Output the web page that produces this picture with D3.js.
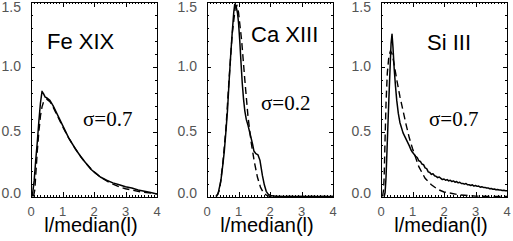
<!DOCTYPE html>
<html><head><meta charset="utf-8">
<script src="https://cdn.jsdelivr.net/npm/d3@7"></script>
<style>body{margin:0;background:#fff}svg{display:block}</style>
</head><body>
<script>
// ---- data ----
const panelNames = ["Fe XIX", "Ca XIII", "Si III"];
const sigmaLabels = ["σ=0.7", "σ=0.2", "σ=0.7"];
const xTicks = [0, 1, 2, 3, 4];
const yTicks = [0.0, 0.5, 1.0, 1.5];
const xTitle = "l/median(l)";

const feSolid = [[0.04,0],[0.1,0.12],[0.15,0.28],[0.2,0.42],[0.25,0.58],[0.3,0.72],[0.35,0.81],[0.4,0.79],[0.45,0.765],[0.5,0.76],[0.55,0.75],[0.6,0.74],[0.7,0.7],[0.8,0.65],[0.9,0.6],[1.0,0.55],[1.1,0.5],[1.2,0.45],[1.3,0.41],[1.4,0.37],[1.5,0.335],[1.6,0.3],[1.7,0.27],[1.8,0.24],[1.9,0.21],[2.0,0.19],[2.1,0.17],[2.2,0.15],[2.4,0.125],[2.6,0.105],[2.8,0.09],[3.0,0.075],[3.2,0.065],[3.4,0.05],[3.6,0.04],[3.8,0.03],[4.0,0.02]];
const feDashed = [[0.08,0],[0.12,0.05],[0.16,0.2],[0.2,0.35],[0.25,0.5],[0.3,0.62],[0.35,0.69],[0.4,0.73],[0.5,0.75],[0.6,0.73],[0.7,0.69],[0.8,0.64],[1.0,0.54],[1.2,0.45],[1.4,0.37],[1.6,0.3],[1.8,0.24],[2.0,0.19],[2.2,0.15],[2.5,0.105],[2.8,0.075],[3.0,0.06],[3.5,0.035],[4.0,0.02]];

const caSolid = [[0.28,0],[0.35,0.02],[0.44,0.12],[0.5,0.24],[0.55,0.35],[0.6,0.5],[0.65,0.66],[0.7,0.88],[0.75,1.08],[0.8,1.26],[0.85,1.42],[0.88,1.48],[0.92,1.47],[0.97,1.41],[1.0,1.34],[1.04,1.2],[1.08,1.03],[1.12,0.87],[1.16,0.75],[1.2,0.66],[1.25,0.59],[1.3,0.55],[1.39,0.46],[1.45,0.4],[1.49,0.35],[1.55,0.33],[1.62,0.32],[1.68,0.28],[1.72,0.22],[1.76,0.16],[1.82,0.09],[1.88,0.04],[1.95,0.015],[2.05,0.005],[2.25,0],[4.0,0]];
const caDashed = [[0.3,0],[0.4,0.05],[0.5,0.25],[0.6,0.52],[0.7,0.9],[0.8,1.25],[0.9,1.46],[0.95,1.47],[1.0,1.42],[1.1,1.2],[1.2,0.9],[1.3,0.62],[1.4,0.42],[1.5,0.27],[1.6,0.15],[1.7,0.07],[1.8,0.025],[1.9,0.008],[2.0,0],[4.0,0]];

const siSolid = [[0.1,0],[0.13,0.03],[0.16,0.15],[0.2,0.42],[0.25,0.75],[0.29,1.0],[0.32,1.18],[0.35,1.25],[0.38,1.15],[0.42,0.98],[0.46,0.85],[0.5,0.74],[0.55,0.64],[0.6,0.57],[0.7,0.49],[0.8,0.44],[0.9,0.39],[0.95,0.36],[1.0,0.34],[1.05,0.325],[1.1,0.31],[1.15,0.3],[1.2,0.275],[1.25,0.27],[1.3,0.25],[1.35,0.245],[1.4,0.22],[1.45,0.215],[1.5,0.19],[1.55,0.185],[1.6,0.17],[1.65,0.175],[1.7,0.16],[1.75,0.155],[1.8,0.145],[1.85,0.15],[1.9,0.14],[1.95,0.13],[2.0,0.135],[2.05,0.125],[2.1,0.13],[2.15,0.12],[2.2,0.125],[2.25,0.115],[2.3,0.12],[2.35,0.11],[2.4,0.115],[2.45,0.105],[2.5,0.11],[2.55,0.1],[2.6,0.1],[2.65,0.095],[2.7,0.1],[2.75,0.09],[2.8,0.09],[2.85,0.085],[2.9,0.09],[2.95,0.08],[3.0,0.085],[3.05,0.078],[3.1,0.08],[3.15,0.072],[3.2,0.075],[3.25,0.07],[3.3,0.07],[3.35,0.065],[3.4,0.066],[3.45,0.06],[3.5,0.062],[3.55,0.056],[3.6,0.058],[3.65,0.052],[3.7,0.054],[3.75,0.05],[3.8,0.05],[3.85,0.046],[3.9,0.048],[3.95,0.044],[4.0,0.045]];
const siDashed = [[0.05,0],[0.08,0.05],[0.1,0.15],[0.13,0.45],[0.16,0.72],[0.2,0.95],[0.25,1.08],[0.3,1.12],[0.35,1.1],[0.4,1.04],[0.5,0.9],[0.6,0.77],[0.7,0.66],[0.8,0.55],[0.9,0.45],[1.0,0.37],[1.2,0.23],[1.4,0.14],[1.6,0.09],[1.8,0.055],[2.0,0.035],[2.5,0.012],[3.0,0.003],[3.5,0.001],[4.0,0]];

const solidSeries = [feSolid, caSolid, siSolid];
const dashedSeries = [feDashed, caDashed, siDashed];

// ---- layout (positions/styles, not data) ----
const W = 513, H = 241;
const panelLeft = [31, 207, 381];
const panelW = 126;
const yTop = 1.7, yBot = 196.5;
const nameAt = [[47, 49], [251, 42], [427, 50]];
const sigmaAt = [[83, 126], [261, 110], [429, 126]];

const svg = d3.select("body").append("svg").attr("width", W).attr("height", H);

panelNames.forEach((name, i) => {
  const x = d3.scaleLinear().domain([0, 4]).range([panelLeft[i], panelLeft[i] + panelW]);
  const y = d3.scaleLinear().domain([0, 1.5]).range([yBot, yTop]);
  const g = svg.append("g");

  const clipId = "clip" + i;
  svg.append("clipPath").attr("id", clipId).append("rect")
    .attr("x", x(0)).attr("y", y(1.5)).attr("width", x(4) - x(0)).attr("height", y(0) - y(1.5) + 1);

  // minor + major ticks, all four sides, inward
  const xMinor = d3.range(0, 41).map(k => k / 10);
  const yMinor = d3.range(0, 16).map(k => k / 10);
  const tk = g.append("g").attr("stroke", "#000").attr("stroke-width", 1).attr("shape-rendering", "crispEdges");
  xMinor.forEach(v => {
    const major = Math.abs(v - Math.round(v)) < 1e-6;
    const len = major ? 5 : 2;
    const px = Math.round(x(v)) + 0.5;
    tk.append("line").attr("x1", px).attr("x2", px).attr("y1", y(0)).attr("y2", y(0) - len);
    tk.append("line").attr("x1", px).attr("x2", px).attr("y1", y(1.5)).attr("y2", y(1.5) + len);
  });
  yMinor.forEach(v => {
    const major = Math.abs(v * 2 - Math.round(v * 2)) < 1e-6;
    const len = major ? 4 : 2;
    const py = Math.round(y(v)) + 0.5;
    tk.append("line").attr("x1", x(0)).attr("x2", x(0) + len).attr("y1", py).attr("y2", py);
    tk.append("line").attr("x1", x(4)).attr("x2", x(4) - len).attr("y1", py).attr("y2", py);
  });

  // frame
  g.append("rect").attr("x", Math.round(x(0)) + 0.5).attr("y", Math.round(y(1.5)) + 0.5)
    .attr("width", Math.round(x(4) - x(0))).attr("height", Math.round(y(0) - y(1.5)))
    .attr("fill", "none").attr("stroke", "#000").attr("stroke-width", 1);

  // tick labels
  g.selectAll(".yl").data(yTicks).enter().append("text")
    .attr("x", x(0) - 10).attr("y", d => Math.min(198, Math.max(12, y(d) + 4)))
    .attr("text-anchor", "end").attr("font-family", "Liberation Sans, Arial, sans-serif")
    .attr("font-size", 14).attr("fill", "#555").text(d => d.toFixed(1));
  g.selectAll(".xl").data(xTicks).enter().append("text")
    .attr("x", d => x(d)).attr("y", 216)
    .attr("text-anchor", "middle").attr("font-family", "Liberation Sans, Arial, sans-serif")
    .attr("font-size", 13).attr("fill", "#555").text(d => d);

  // axis title
  g.append("text").attr("x", (x(0) + x(4)) / 2 - 3).attr("y", 232)
    .attr("text-anchor", "middle").attr("font-family", "Liberation Sans, Arial, sans-serif")
    .attr("font-size", 20).attr("fill", "#000").text(xTitle);

  // curves
  const line = d3.line().x(d => x(d[0])).y(d => y(d[1]));
  const cg = g.append("g").attr("clip-path", `url(#${clipId})`);
  cg.append("path").attr("d", line(dashedSeries[i])).attr("fill", "none")
    .attr("stroke", "#000").attr("stroke-width", 1.4).attr("stroke-dasharray", "7,4");
  cg.append("path").attr("d", line(solidSeries[i])).attr("fill", "none")
    .attr("stroke", "#000").attr("stroke-width", 1.5).attr("stroke-linejoin", "round");

  // labels
  g.append("text").attr("x", nameAt[i][0]).attr("y", nameAt[i][1])
    .attr("font-family", "Liberation Sans, Arial, sans-serif").attr("font-size", 22)
    .attr("fill", "#000").text(name);
  g.append("text").attr("x", sigmaAt[i][0]).attr("y", sigmaAt[i][1])
    .attr("font-family", "Liberation Serif, Times New Roman, serif").attr("font-size", 21)
    .attr("fill", "#000").text(sigmaLabels[i]);
});
</script>
</body></html>
